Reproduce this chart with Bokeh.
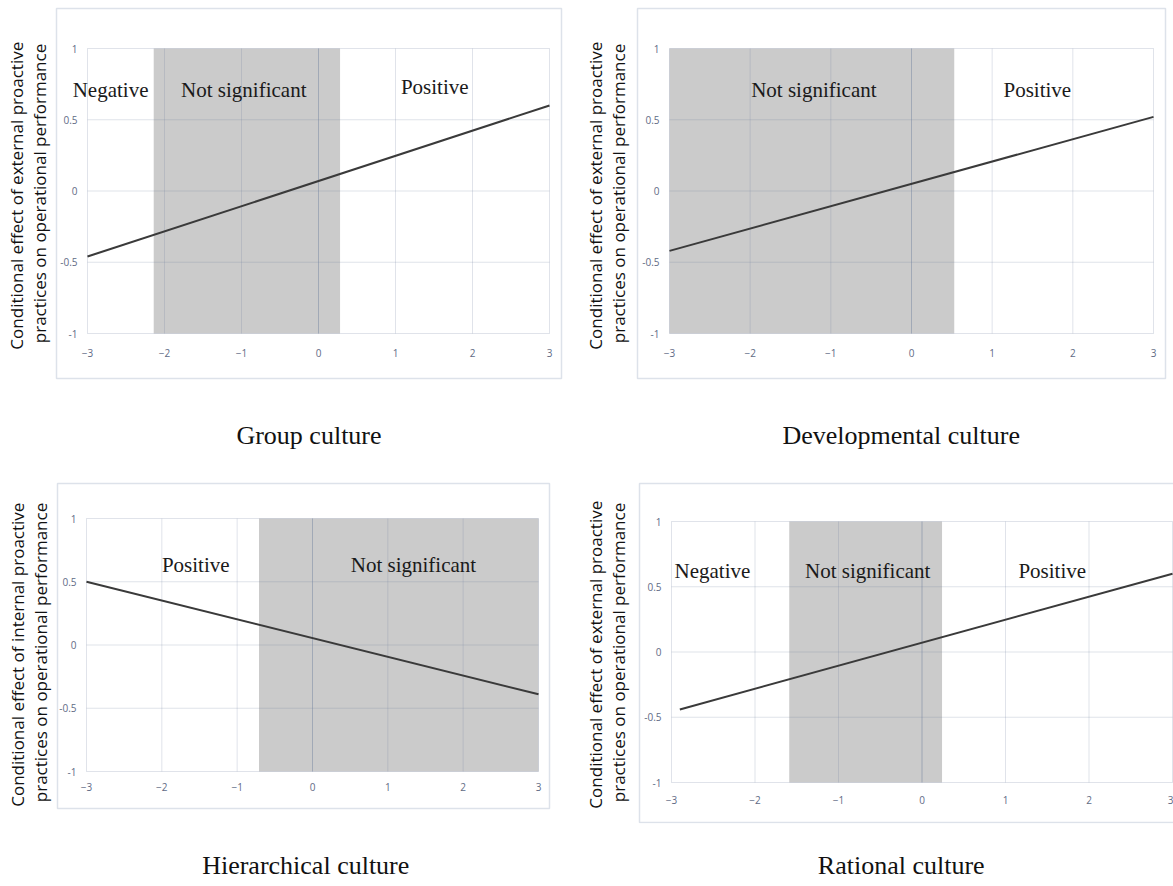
from bokeh.plotting import figure
from bokeh.models import Label, LinearAxis, FixedTicker
from bokeh.layouts import column, row
from bokeh.embed import file_html
from bokeh.resources import INLINE

# ---------------- data ----------------
x_ticks = [-3, -2, -1, 0, 1, 2, 3]
y_ticks = [-1, -0.5, 0, 0.5, 1]
y_tick_labels = ["-1", "-0.5", "0", "0.5", "1"]

titles = ["Group culture", "Developmental  culture", "Hierarchical  culture", "Rational  culture"]
y_titles = [
    "Conditional effect  of external proactive\npractices on operational performance",
    "Conditional effect  of external proactive\npractices on operational performance",
    "Conditional effect  of internal proactive\npractices on operational performance",
    "Conditional effect  of external proactive\npractices on operational performance",
]

line_x = [[-3, 3], [-3, 3], [-3, 3], [-2.9, 3]]
line_y = [[-0.46, 0.60], [-0.42, 0.52], [0.50, -0.39], [-0.44, 0.60]]

band_left = [-2.14, -3.0, -0.71, -1.59]
band_right = [0.28, 0.53, 3.0, 0.24]

region_text = [
    ["Negative", "Not significant", "Positive"],
    ["Not significant", "Positive"],
    ["Positive", "Not significant"],
    ["Negative", "Not significant", "Positive"],
]
region_x = [[-2.70, -0.97, 1.51], [-1.21, 1.56], [-1.55, 1.34], [-2.51, -0.65, 1.56]]
region_y = [[0.71, 0.71, 0.73], [0.71, 0.71], [0.63, 0.63], [0.62, 0.62, 0.62]]

# ---------------- layout (pixel positions only) ----------------
# frame = bokeh frame (l, r, t, b); box = chart border; inner = plotting area
cfg = [
    dict(w=580, h=455, frame=(54, 563, 6, 380), box=(56, 561, 8, 378),
         inner=(87, 549, 48, 333), xs=15, ys=4, ts=40),
    dict(w=593, h=455, frame=(55, 593, 6, 380), box=(57, 585, 8, 378),
         inner=(89, 573, 48, 333), xs=15, ys=6, ts=40),
    dict(w=580, h=428, frame=(54, 563, 26, 368), box=(57, 549, 28, 353),
         inner=(86, 538, 63, 316), xs=11, ys=3, ts=27),
    dict(w=593, h=428, frame=(55, 593, 26, 368), box=(59, 600, 28, 367),
         inner=(91, 592, 66, 327), xs=13, ys=6, ts=27),
]

GRID = "#7080a0"
overrides = {t: s for t, s in zip(y_ticks, y_tick_labels)}


def make_panel(i):
    c = cfg[i]
    fl, fr, ft, fb = c["frame"]
    bl, br, bt, bb = c["box"]
    il, ir, it, ib = c["inner"]
    x0, x1 = x_ticks[0], x_ticks[-1]
    y0, y1 = y_ticks[0], y_ticks[-1]
    dx = (x1 - x0) / (ir - il)
    dy = (y1 - y0) / (ib - it)
    xr = (x0 - (il - fl) * dx, x1 + (fr - ir) * dx)
    yr = (y0 - (fb - ib) * dy, y1 + (it - ft) * dy)

    p = figure(width=c["w"], height=c["h"], x_range=xr, y_range=yr,
               output_backend="svg", toolbar_location=None, tools="",
               min_border_left=fl, min_border_right=c["w"] - fr,
               min_border_top=ft, min_border_bottom=c["h"] - fb,
               background_fill_color="white", border_fill_color="white")
    p.outline_line_color = None
    p.xgrid.visible = False
    p.ygrid.visible = False

    # chart border
    p.quad(left=[x0 - (il - bl) * dx], right=[x1 + (br - ir) * dx],
           bottom=[y0 - (bb - ib) * dy], top=[y1 + (it - bt) * dy],
           fill_color=None, line_color="#dde2ea", line_width=1.5, level="underlay")

    # gray "not significant" band
    p.quad(left=[band_left[i]], right=[band_right[i]], bottom=[y0], top=[y1],
           fill_color="#cbcbcb", line_color=None, level="underlay")

    # grid lines of the plotting area, at the tick positions
    p.segment(x0=x_ticks, y0=[y0] * len(x_ticks), x1=x_ticks, y1=[y1] * len(x_ticks),
              line_color=GRID, line_alpha=0.22, line_width=1, level="underlay")
    p.segment(x0=[x0] * len(y_ticks), y0=y_ticks, x1=[x1] * len(y_ticks), y1=y_ticks,
              line_color=GRID, line_alpha=0.22, line_width=1, level="underlay")
    zero = [t for t in x_ticks if t == 0]
    p.segment(x0=zero, y0=[y0], x1=zero, y1=[y1],
              line_color=GRID, line_alpha=0.3, line_width=1, level="underlay")

    # tick axes inside the chart border
    p.xaxis.ticker = x_ticks
    p.yaxis.ticker = y_ticks
    p.yaxis.major_label_overrides = overrides
    p.xaxis.fixed_location = y0
    p.yaxis.fixed_location = x0
    for ax in (p.xaxis[0], p.yaxis[0]):
        ax.axis_line_color = None
        ax.major_tick_line_color = None
        ax.minor_tick_line_color = None
        ax.major_tick_out = 0
        ax.major_tick_in = 0
        ax.minor_tick_out = 0
        ax.major_label_text_font = "Open Sans"
        ax.major_label_text_font_size = "10px"
        ax.major_label_text_color = "#5f6b85"
    p.xaxis.major_label_standoff = c["xs"]
    p.yaxis.major_label_standoff = 10

    # title axes outside the chart border
    def title_axis(label):
        ax = LinearAxis(ticker=FixedTicker(ticks=[]), axis_label=label)
        ax.axis_line_color = None
        ax.major_tick_line_color = None
        ax.minor_tick_line_color = None
        ax.major_tick_out = 0
        ax.major_tick_in = 0
        ax.minor_tick_out = 0
        ax.major_label_standoff = 0
        ax.major_label_text_font_size = "0px"
        ax.axis_label_text_font_style = "normal"
        ax.axis_label_text_color = "#111111"
        return ax

    bx = title_axis(titles[i])
    bx.axis_label_text_font = "Liberation Serif"
    bx.axis_label_text_font_size = "26px"
    bx.axis_label_standoff = c["ts"]
    p.add_layout(bx, "below")

    ly = title_axis(y_titles[i])
    ly.axis_label_text_font = "Open Sans"
    ly.axis_label_text_font_size = "17px"
    ly.axis_label_text_line_height = 1.0
    ly.axis_label_standoff = c["ys"]
    p.add_layout(ly, "left")

    p.line(line_x[i], line_y[i], line_color="#3a3a3a", line_width=2)

    for t, x, y in zip(region_text[i], region_x[i], region_y[i]):
        p.add_layout(Label(x=x, y=y, text=t, text_font="Liberation Serif",
                           text_font_size="21px", text_align="center",
                           text_baseline="middle", text_color="#1a1a1a"))
    return p


panels = [make_panel(i) for i in range(4)]
layout = column(row(panels[0], panels[1]), row(panels[2], panels[3]))

open("out.html", "w").write(file_html(layout, INLINE))
